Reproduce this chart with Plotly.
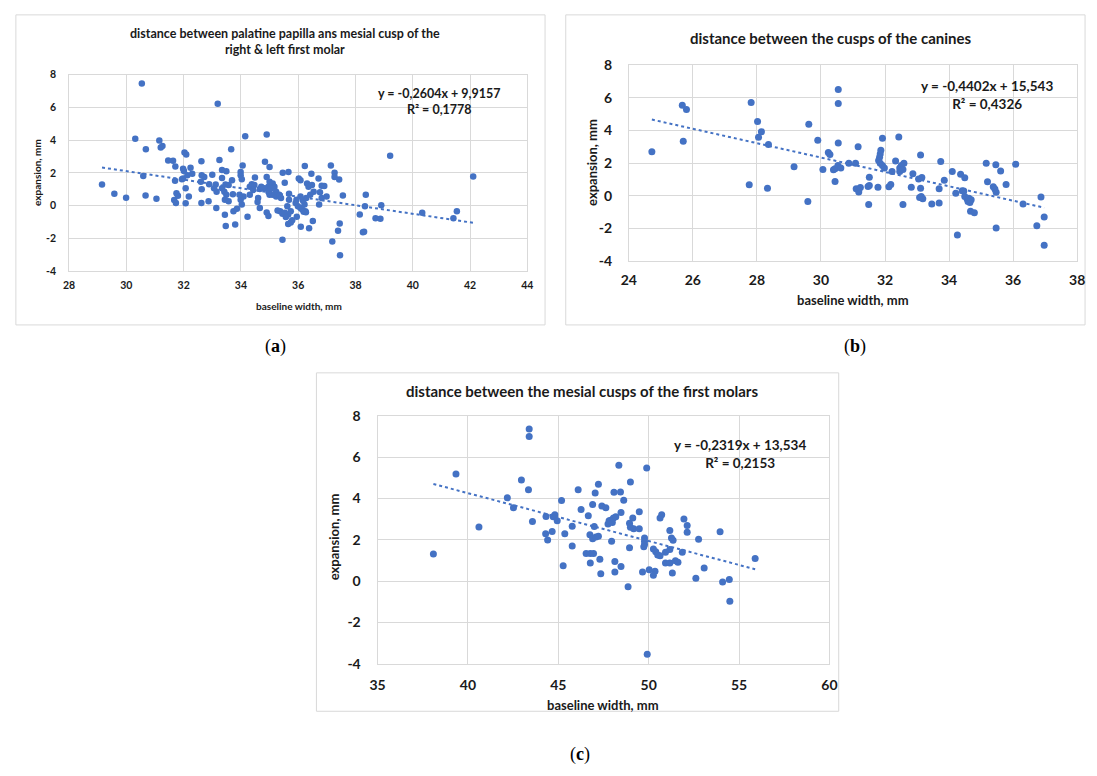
import plotly.graph_objects as go

W, H = 1097, 776
BLUE = "#4472C4"
GRID = "#D9D9D9"
FONT = "Lato"

# ---------------- data ----------------
# (a) palatine papilla -> mesial cusp of first molar
a_x = [29.15, 29.58, 29.99, 30.31, 30.54, 30.59, 30.67, 30.68, 31.05, 31.15, 31.20, 31.26, 31.46, 31.63,
       31.70, 31.71, 31.67, 31.73, 31.75, 31.80, 31.94, 31.98, 31.98, 32.01, 32.03, 32.09, 32.07, 32.07,
       32.13, 32.18, 32.24, 32.30, 32.62, 32.63, 32.72, 32.60, 32.63, 32.62, 32.89, 33.00, 32.87, 33.12,
       33.06, 33.15, 33.19, 33.25, 33.14, 33.34, 33.49, 33.34, 33.46, 33.34, 33.42, 33.49, 33.44, 33.57,
       33.72, 33.69, 33.57, 33.66, 33.44, 33.47, 33.80, 33.74, 33.86, 33.99, 34.03, 34.09, 33.95, 33.99,
       33.99, 34.06, 34.03, 34.15, 34.23, 34.38, 34.31, 34.47, 34.43, 34.31, 34.49, 34.58, 34.66, 34.60,
       34.90, 34.96, 34.90, 34.84, 35.00, 34.90, 34.96, 34.83, 35.00, 34.96, 34.66, 34.71, 35.00, 35.11,
       35.17, 35.23, 35.06, 35.00, 35.11, 35.23, 35.34, 35.40, 35.46, 35.66, 35.53, 35.68, 35.68, 35.62,
       35.74, 35.65, 35.37, 35.28, 35.45, 35.53, 35.57, 35.79, 35.74, 35.65, 35.45, 36.09, 35.95, 36.38,
       36.51, 35.94, 35.91, 35.99, 36.08, 36.14, 36.25, 36.22, 36.17, 36.28, 36.08, 36.02, 36.08, 36.31,
       36.36, 36.48, 36.54, 36.42, 36.23, 36.46, 36.71, 36.82, 36.91, 36.76, 36.82, 36.73, 36.99, 36.19,
       36.27, 37.14, 37.27, 37.27, 37.43, 37.56, 37.45, 37.39, 37.19, 37.46, 38.36, 38.33, 38.15, 38.30,
       38.26, 38.90, 38.70, 38.87, 39.21, 40.33, 41.42, 41.54, 42.11]
a_y = [1.29, 0.72, 0.48, 4.08, 7.46, 1.81, 0.62, 3.44, 0.42, 3.98, 3.54, 3.64, 2.76, 2.73,
       1.51, 2.39, 0.34, 0.16, 0.76, 0.60, 1.61, 2.25, 1.65, 2.11, 3.24, 3.12, 0.14, 1.06,
       1.85, 0.56, 2.31, 1.95, 2.70, 1.85, 1.75, 1.45, 1.00, 0.16, 1.31, 1.89, 0.26, 1.29,
       1.06, 0.85, 6.21, 2.79, -0.14, 2.17, 2.09, 1.69, 1.29, 1.06, 0.85, 0.66, 0.36, 0.26,
       0.70, 1.55, 1.25, 3.44, -0.56, -1.25, -1.15, -0.34, -0.20, 0.36, 0.06, 0.56, 0.66, 1.85,
       2.05, 2.45, 1.61, 4.24, -0.68, 1.31, 1.15, 1.25, 0.95, 0.66, 1.71, 0.22, -0.14, 0.46,
       -0.42, -0.64, 4.34, 2.67, 2.35, 1.75, 1.15, 1.06, 0.66, 0.85, 1.01, 1.15, 1.45, 1.35,
       1.15, 0.85, 1.06, 0.76, 0.66, 0.56, 0.66, 0.46, 2.01, 2.05, 1.39, 0.72, 0.36, -0.04,
       -0.34, -0.54, -0.34, -0.30, -0.50, -0.44, -0.70, -0.90, -1.03, -1.13, -2.09, -1.29, -0.68, -1.39,
       -0.94, 0.36, 0.16, -0.04, -0.14, -0.24, -0.34, 0.06, 0.30, 0.46, 0.56, 1.65, 1.55, 1.35,
       1.15, 1.25, 0.85, 0.66, 2.41, 1.95, 1.65, 1.21, 1.19, 0.82, 0.46, 0.06, 0.56, -0.38,
       -0.40, 2.45, 2.01, 1.75, 1.59, 0.62, -1.09, -1.53, -2.19, -3.03, 0.66, -0.04, -0.54, -1.59,
       -1.63, 0.02, -0.78, -0.80, 3.04, -0.44, -0.78, -0.34, 1.77]

# (b) cusps of the canines
b_x = [24.72, 25.67, 25.80, 25.70, 27.82, 28.02, 28.14, 28.05, 28.36, 27.76, 28.33, 29.16, 29.62, 29.59,
       29.90, 30.06, 30.23, 30.28, 30.39, 30.44, 30.44, 30.54, 30.54, 30.54, 30.53, 30.62, 30.87, 31.08,
       31.16, 31.10, 31.18, 31.23, 31.51, 31.51, 31.47, 31.49, 31.78, 31.92, 31.87, 31.85, 31.83, 31.80,
       31.85, 31.92, 31.98, 32.12, 32.18, 32.22, 32.43, 32.33, 32.46, 32.51, 32.59, 32.46, 32.56, 32.56,
       32.82, 32.87, 33.11, 33.05, 33.15, 33.11, 33.13, 33.18, 33.08, 33.46, 33.69, 33.69, 33.74, 33.85,
       34.10, 34.21, 34.26, 34.36, 34.49, 34.41, 34.46, 34.49, 34.56, 34.62, 34.59, 34.65, 34.69, 34.67,
       34.79, 35.16, 35.20, 35.38, 35.43, 35.47, 35.46, 35.61, 35.78, 35.47, 36.08, 36.31, 36.87, 36.97,
       36.74, 36.97]
b_y = [2.69, 5.54, 5.28, 3.33, 5.70, 4.54, 3.92, 3.58, 3.13, 0.67, 0.45, 1.77, 4.38, -0.35,
       3.39, 1.61, 2.65, 2.53, 1.59, 1.65, 0.87, 6.50, 5.64, 3.23, 1.85, 1.69, 1.98, 1.98,
       3.00, 0.42, 0.22, 0.50, 1.13, 0.63, 0.56, -0.54, 0.52, 3.52, 2.79, 2.55, 2.35, 2.15,
       1.99, 1.85, 1.69, 0.55, 0.69, 1.49, 3.59, 2.12, 1.69, 1.85, 1.99, 1.49, 1.61, -0.54,
       0.52, 1.35, 2.50, 1.02, 1.12, 0.46, -0.05, -0.18, -0.11, -0.50, -0.44, 0.42, 2.09, 0.95,
       1.49, 0.15, -2.40, 1.32, 1.10, 0.31, 0.29, -0.05, -0.18, -0.15, -0.35, -0.41, -0.25, -0.95,
       -1.04, 1.99, 0.85, 0.55, 0.41, 0.21, 1.89, 1.51, 0.69, -1.98, 1.93, -0.50, -0.08, -1.30,
       -1.84, -3.04]

# (c) mesial cusps of the first molars
c_x = [38.09, 39.34, 40.61, 42.18, 42.52, 42.96, 43.39, 43.39, 43.35, 43.57, 44.32, 44.30, 44.41, 44.66,
       44.72, 44.81, 44.94, 45.18, 45.36, 45.27, 45.77, 45.77, 46.10, 46.26, 46.54, 46.77, 46.95, 46.77,
       46.66, 46.75, 46.90, 47.04, 47.22, 46.99, 46.90, 47.08, 47.22, 47.30, 47.35, 47.41, 47.63, 47.75,
       47.81, 47.90, 47.99, 48.05, 48.18, 47.95, 48.13, 48.13, 48.47, 48.08, 48.44, 48.35, 48.62, 48.47,
       48.99, 48.94, 49.12, 48.99, 49.17, 49.48, 49.48, 48.94, 48.86, 49.66, 49.89, 49.77, 49.77, 49.77,
       49.73, 50.03, 50.26, 50.39, 50.50, 50.63, 50.35, 50.26, 50.63, 50.72, 50.93, 51.17, 51.26, 51.35,
       51.17, 50.93, 51.17, 51.31, 51.48, 51.62, 51.86, 51.95, 52.13, 52.13, 52.76, 52.61, 53.07, 53.95,
       54.09, 54.46, 54.49, 55.89, 49.92]
c_y = [1.31, 5.18, 2.62, 4.03, 3.55, 4.90, 7.36, 7.00, 4.42, 2.88, 3.13, 2.29, 1.99, 2.40,
       3.11, 3.21, 2.92, 3.90, 2.29, 0.74, 2.65, 1.70, 4.42, 3.47, 1.34, 1.34, 1.34, 0.87,
       3.16, 2.24, 3.71, 4.27, 4.69, 2.64, 2.05, 2.13, 2.17, 1.06, 0.35, 3.63, 3.55, 2.76,
       2.92, 2.95, 2.84, 3.05, 3.11, 1.93, 0.95, 0.44, 0.71, 4.30, 4.31, 5.61, 3.92, 3.32,
       4.80, 2.80, 3.05, 2.61, 2.53, 2.53, 3.36, 1.61, -0.27, 0.44, 5.48, 2.09, 1.93, 1.77,
       1.66, 0.55, 1.55, 1.42, 1.26, 1.23, 0.47, 0.28, 3.05, 3.21, 1.39, 1.53, 2.09, 1.98,
       2.45, 0.87, 0.87, 0.39, 0.98, 0.91, 1.39, 3.00, 2.69, 2.37, 2.02, 0.13, 0.63, 2.39,
       -0.05, 0.08, -0.98, 1.09, -3.55]

# trendline coefficients (slope, intercept) and R^2
a_fit = (-0.2604, 9.9157, 0.1778)
b_fit = (-0.4402, 15.543, 0.4326)
c_fit = (-0.2319, 13.534, 0.2153)

a_xticks = [28, 30, 32, 34, 36, 38, 40, 42, 44]
b_xticks = [24, 26, 28, 30, 32, 34, 36, 38]
c_xticks = [35, 40, 45, 50, 55, 60]
y_ticks = [-4, -2, 0, 2, 4, 6, 8]

titles = ["distance between palatine papilla ans mesial cusp of the<br>right &amp; left first molar",
          "distance between the cusps of the canines",
          "distance between the mesial cusps of the first molars"]
x_title = "baseline width, mm"
y_title = "expansion, mm"
equations = ["y = -0,2604x + 9,9157<br>R² = 0,1778",
             "y = -0,4402x + 15,543<br>R² = 0,4326",
             "y = -0,2319x + 13,534<br>R² = 0,2153"]
panel_labels = ["(<b>a</b>)", "(<b>b</b>)", "(<b>c</b>)"]


def px(x):
    return x / W


def py(y):
    return 1 - y / H


fig = go.Figure()

panels = [
    dict(x=a_x, y=a_y, fit=a_fit, xt=a_xticks, xr=(28, 44), box=(62, 527, 67, 268), ms=6.5,
         tickfs=10.5, axfs=10, titlefs=12.5, eqfs=12.5, frame=(8, 545, 6, 323),
         title_xy=(281, 33), eq_xy=(437, 95), xt_xy=(295, 304), yt_xy=(30, 167),
         lab_xy=(271, 345), tstand=(4, 10)),
    dict(x=b_x, y=b_y, fit=b_fit, xt=b_xticks, xr=(24, 38), box=(630, 1085, 57.3, 257.7), ms=7,
         tickfs=14, axfs=13, titlefs=15, eqfs=13.5, frame=(566, 1093, 6, 323),
         title_xy=(835, 30), eq_xy=(993, 88), xt_xy=(857, 298), yt_xy=(592, 157),
         lab_xy=(860, 345), tstand=(6, 13)),
    dict(x=c_x, y=c_y, fit=c_fit, xt=c_xticks, xr=(35, 60), box=(375, 833.6, 416, 669.3), ms=7,
         tickfs=14, axfs=13, titlefs=15, eqfs=13.5, frame=(313, 843, 372, 718),
         title_xy=(582, 391), eq_xy=(743, 455), xt_xy=(604, 712), yt_xy=(331, 540),
         lab_xy=(580, 762), tstand=(9, 13)),
]

for i, p in enumerate(panels):
    n = "" if i == 0 else str(i + 1)
    xa, ya = "x" + n, "y" + n
    fig.add_trace(go.Scatter(x=p["x"], y=p["y"], mode="markers", xaxis=xa, yaxis=ya,
                             marker=dict(color=BLUE, size=p["ms"], line=dict(width=0)),
                             showlegend=False, hoverinfo="x+y"))
    m, b, r2 = p["fit"]
    x0, x1 = min(p["x"]), max(p["x"])
    fig.add_trace(go.Scatter(x=[x0, x1], y=[m * x0 + b, m * x1 + b], mode="lines",
                             xaxis=xa, yaxis=ya, line=dict(color=BLUE, width=2, dash="dot"),
                             showlegend=False, hoverinfo="skip"))
    l, r, t, bt = p["box"]
    tf = dict(family=FONT, size=p["tickfs"], color="#1a1a1a")
    fig.update_layout(**{
        "xaxis" + n: dict(domain=[px(l), px(r)], range=list(p["xr"]), anchor=ya,
                          tickvals=p["xt"], ticktext=[f"<b>{v}</b>" for v in p["xt"]],
                          showgrid=True, gridcolor=GRID, gridwidth=1, zeroline=False,
                          showline=True, linecolor=GRID, mirror=True, ticks="",
                          tickfont=tf, ticklabelstandoff=p["tstand"][0], fixedrange=True),
        "yaxis" + n: dict(domain=[py(bt), py(t)], range=[-4, 8], anchor=xa,
                          tickvals=y_ticks, ticktext=[f"<b>{v}</b>" for v in y_ticks],
                          showgrid=True, gridcolor=GRID, gridwidth=1, zeroline=False,
                          showline=True, linecolor=GRID, mirror=True, ticks="",
                          tickfont=tf, ticklabelstandoff=p["tstand"][1], fixedrange=True),
    })
    fl, fr, ft, fb = p["frame"]
    fig.add_shape(type="rect", xref="paper", yref="paper", x0=px(fl), x1=px(fr), y0=py(fb), y1=py(ft),
                  line=dict(color=GRID, width=1), layer="below")
    fig.add_annotation(xref="paper", yref="paper", x=px(p["title_xy"][0]), y=py(p["title_xy"][1]),
                       text=f"<b>{titles[i]}</b>", showarrow=False, xanchor="center", yanchor="middle",
                       font=dict(family=FONT, size=p["titlefs"], color="#1a1a1a"), align="center")
    fig.add_annotation(xref="paper", yref="paper", x=px(p["eq_xy"][0]), y=py(p["eq_xy"][1]),
                       text=f"<b>{equations[i]}</b>", showarrow=False, xanchor="center", yanchor="middle",
                       font=dict(family=FONT, size=p["eqfs"], color="#1a1a1a"), align="center")
    fig.add_annotation(xref="paper", yref="paper", x=px(p["xt_xy"][0]), y=py(p["xt_xy"][1]),
                       text=f"<b>{x_title}</b>", showarrow=False, xanchor="center", yanchor="middle",
                       font=dict(family=FONT, size=p["axfs"], color="#1a1a1a"))
    fig.add_annotation(xref="paper", yref="paper", x=px(p["yt_xy"][0]), y=py(p["yt_xy"][1]),
                       text=f"<b>{y_title}</b>", showarrow=False, xanchor="center", yanchor="middle",
                       textangle=-90, font=dict(family=FONT, size=p["axfs"], color="#1a1a1a"))
    fig.add_annotation(xref="paper", yref="paper", x=px(p["lab_xy"][0]), y=py(p["lab_xy"][1]),
                       text=panel_labels[i], showarrow=False, xanchor="center", yanchor="middle",
                       font=dict(family="Liberation Serif", size=18, color="#000000"))

fig.update_layout(width=W, height=H, margin=dict(l=0, r=0, t=0, b=0),
                  paper_bgcolor="white", plot_bgcolor="white", showlegend=False)

fig.write_html("out.html", config={"displayModeBar": False},
               post_script="document.body.style.margin='0';document.body.style.overflow='hidden';")
